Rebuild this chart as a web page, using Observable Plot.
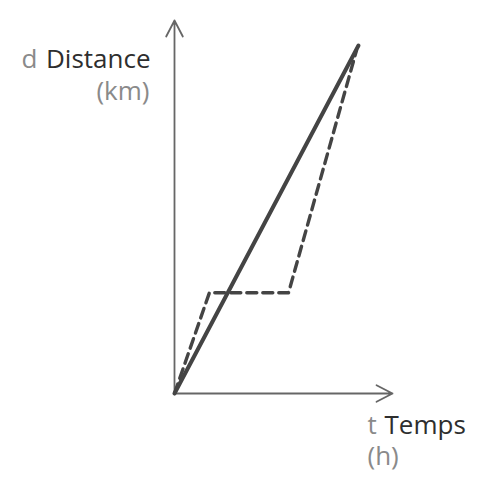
<!DOCTYPE html>
<html>
<head>
<meta charset="utf-8">
<script src="https://cdn.jsdelivr.net/npm/d3@7"></script>
<script src="https://cdn.jsdelivr.net/npm/@observablehq/plot@0.6"></script>
<style>
  html, body { margin: 0; padding: 0; background: #fff; }
  #chart svg { display: block; }
</style>
</head>
<body>
<div id="chart"></div>
<script>
// Data (time in hours, distance in km — schematic)
const solidT = [0, 8.44];
const solidD = [0, 9.33];
const dashT = [0, 1.6, 5.23, 8.35];
const dashD = [0, 2.7, 2.7, 9.2];

// Axis labels
const yVar = "d", yName = "Distance", yUnit = "(km)";
const xVar = "t", xName = "Temps", xUnit = "(h)";

const solid = solidT.map((t, i) => ({t, d: solidD[i]}));
const dashed = dashT.map((t, i) => ({t, d: dashD[i]}));

const font = "'Open Sans', 'DejaVu Sans', sans-serif";
const grey = "#8a8a8a", dark = "#2e2e2e";
const fs = 26;

const chart = Plot.plot({
  width: 477,
  height: 484,
  style: {fontFamily: font, background: "#fff"},
  x: {domain: [0, 10], range: [174, 392], axis: null},
  y: {domain: [0, 10], range: [393, 20], axis: null},
  marks: [
    // axes with arrows
    Plot.arrow([{x1: 0, y1: 0, x2: 10, y2: 0}, {x1: 0, y1: 0, x2: 0, y2: 10}], {
      x1: "x1", y1: "y1", x2: "x2", y2: "y2",
      stroke: "#666", strokeWidth: 1.8, headLength: 15, headAngle: 55
    }),
    Plot.line(dashed, {x: "t", y: "d", stroke: "#444", strokeWidth: 3.4, strokeDasharray: "10,6", strokeLinejoin: "round"}),
    Plot.line(solid, {x: "t", y: "d", stroke: "#444", strokeWidth: 4, strokeLinecap: "round"}),
    // y label
    Plot.text([yVar], {x: 0, y: 10, text: d => d, dx: -153, dy: 47, textAnchor: "start", fill: grey, fontSize: fs, lineAnchor: "bottom"}),
    Plot.text([yName], {x: 0, y: 10, text: d => d, dx: -24, dy: 47, textAnchor: "end", fill: dark, fontSize: fs, fontWeight: 500, lineAnchor: "bottom"}),
    Plot.text([yUnit], {x: 0, y: 10, text: d => d, dx: -25, dy: 79, textAnchor: "end", fill: grey, fontSize: fs, lineAnchor: "bottom"}),
    // x label
    Plot.text([xVar], {x: 10, y: 0, text: d => d, dx: -25, dy: 40, textAnchor: "start", fill: grey, fontSize: fs, lineAnchor: "bottom"}),
    Plot.text([xName], {x: 10, y: 0, text: d => d, dx: -8, dy: 40, textAnchor: "start", fill: dark, fontSize: fs, fontWeight: 500, lineAnchor: "bottom"}),
    Plot.text([xUnit], {x: 10, y: 0, text: d => d, dx: -25, dy: 71, textAnchor: "start", fill: grey, fontSize: fs, lineAnchor: "bottom"})
  ]
});
document.getElementById("chart").appendChild(chart);
</script>
</body>
</html>
